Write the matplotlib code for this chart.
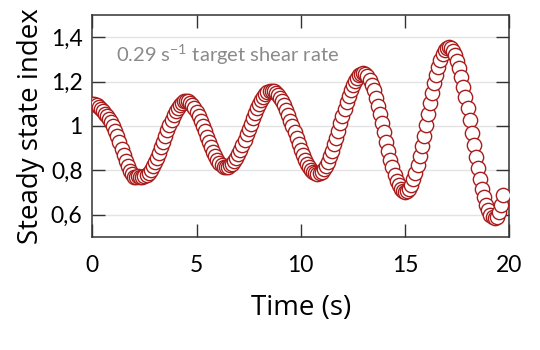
import numpy as np
import matplotlib.pyplot as plt

# time axis, one reading every 0.1 s
time_s = np.round(np.arange(0, 198) * 0.1, 1)

# steady state index
ssi = [
    # 0.0 - 2.4
    1.100, 1.098, 1.093, 1.085, 1.076, 1.066, 1.056, 1.045, 1.033, 1.018,
    1.000, 0.978, 0.953, 0.926, 0.898, 0.870, 0.843, 0.818, 0.797, 0.785,
    0.768, 0.770, 0.775, 0.772, 0.772,
    # 2.5 - 4.5
    0.774, 0.780, 0.789, 0.802, 0.818, 0.836, 0.857, 0.880, 0.905, 0.930,
    0.955, 0.981, 1.005, 1.028, 1.049, 1.068, 1.083, 1.096, 1.105, 1.111,
    1.113,
    # 4.6 - 6.4
    1.111, 1.105, 1.095, 1.082, 1.065, 1.046, 1.024, 1.001, 0.976, 0.952,
    0.927, 0.904, 0.882, 0.863, 0.846, 0.833, 0.823, 0.817, 0.815,
    # 6.5 - 8.6
    0.817, 0.822, 0.831, 0.842, 0.857, 0.874, 0.894, 0.915, 0.938, 0.962,
    0.987, 1.011, 1.035, 1.058, 1.079, 1.099, 1.116, 1.131, 1.143, 1.151,
    1.156, 1.158,
    # 8.7 - 10.8
    1.156, 1.150, 1.141, 1.128, 1.112, 1.094, 1.072, 1.049, 1.024, 0.998,
    0.972, 0.945, 0.919, 0.894, 0.871, 0.849, 0.831, 0.815, 0.802, 0.793,
    0.787, 0.785,
    # 10.9 - 13.0
    0.787, 0.794, 0.806, 0.821, 0.840, 0.863, 0.889, 0.917, 0.948, 0.979,
    1.012, 1.044, 1.075, 1.106, 1.134, 1.160, 1.183, 1.202, 1.218, 1.229,
    1.236, 1.238,
    # 13.1 - 15.0
    1.235, 1.225, 1.209, 1.187, 1.160, 1.128, 1.092, 1.053, 1.012, 0.971,
    0.929, 0.888, 0.849, 0.813, 0.781, 0.754, 0.732, 0.716, 0.706, 0.703,
    # 15.1 - 17.1
    0.707, 0.718, 0.735, 0.760, 0.790, 0.826, 0.866, 0.910, 0.956, 1.005,
    1.053, 1.102, 1.148, 1.192, 1.232, 1.268, 1.298, 1.323, 1.341, 1.351,
    1.355,
    # 17.2 - 19.3
    1.351, 1.339, 1.320, 1.294, 1.261, 1.222, 1.178, 1.130, 1.079, 1.025,
    0.970, 0.915, 0.862, 0.810, 0.762, 0.718, 0.679, 0.646, 0.620, 0.601,
    0.589, 0.585,
    # 19.4 - 19.7
    0.592, 0.612, 0.645, 0.690,
]

x_ticks = [0, 5, 10, 15, 20]
y_ticks = [0.6, 0.8, 1.0, 1.2, 1.4]
y_tick_labels = ['0,6', '0,8', '1', '1,2', '1,4']
note = '0.29 s$^{-1}$ target shear rate'

plt.rcParams['font.family'] = ['Lato', 'DejaVu Sans']
plt.rcParams['mathtext.fontset'] = 'custom'
plt.rcParams['mathtext.rm'] = 'Lato'

fig = plt.figure(figsize=(5.4, 3.5), dpi=100)
ax = fig.add_axes([0.171, 0.323, 0.772, 0.634])

for y in y_ticks:
    ax.axhline(y, color='#e3e3e3', lw=1.0, zorder=0)

ax.plot(time_s[:len(ssi)], ssi, 'o', ms=10.3, mfc='white', mec='#a81c1c',
        mew=1.0, ls='none', zorder=3)

ax.set_xlim(0, 20)
ax.set_ylim(0.5, 1.5)
ax.set_xticks(x_ticks)
ax.set_yticks(y_ticks)
ax.set_yticklabels(y_tick_labels)
ax.tick_params(direction='in', length=9.5, width=1.0, color='#333333',
               top=True, right=True, labelsize=16.5, pad=7)
ax.tick_params(axis='x', pad=13)
for s in ax.spines.values():
    s.set_color('#333333')
    s.set_linewidth(1.1)

ax.set_xlabel('Time (s)', fontsize=20, family=['Open Sans', 'DejaVu Sans'],
              labelpad=13)
ax.set_ylabel('Steady state index', fontsize=20,
              family=['Open Sans', 'DejaVu Sans'], labelpad=4)

ax.text(1.15, 1.32, note, color='#8a8a8a', fontsize=14.5, va='center', ha='left')

fig.savefig('out.png', dpi=100)
